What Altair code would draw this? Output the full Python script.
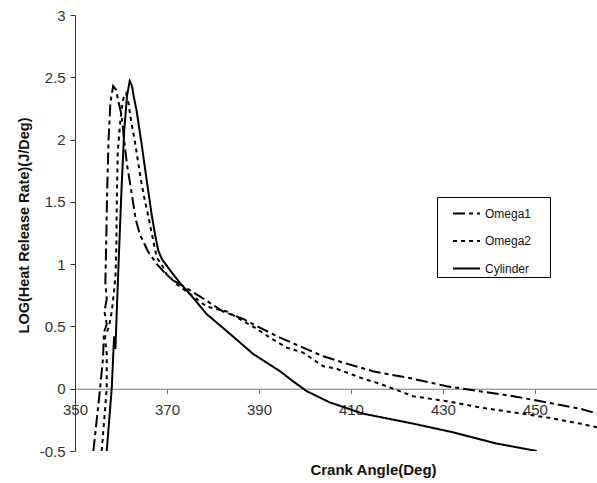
import altair as alt
import pandas as pd

series_names = ["Omega1", "Omega2", "Cylinder"]
x_ticks = [350, 370, 390, 410, 430, 450]
y_ticks = [-0.5, 0, 0.5, 1, 1.5, 2, 2.5, 3]

omega1_x = [354.0, 355.4, 356.1, 356.3, 356.9, 356.4, 356.9, 356.6, 356.8, 357.0,
            357.3, 357.7, 358.3, 358.9, 359.3, 360.1, 360.7, 361.3, 362.1, 363.2,
            364.1, 365.9, 367.8, 369.5, 371.3, 372.8, 377.2, 382.2, 386.6, 390.2,
            394.6, 399.6, 404.0, 408.3, 414.8, 423.5, 430.8, 438.0, 445.3, 452.5,
            459.8, 463.5]
omega1_y = [-0.50, -0.02, 0.25, 0.45, 0.52, 0.62, 0.72, 0.85, 1.20, 1.60,
            2.00, 2.30, 2.43, 2.40, 2.33, 2.20, 1.99, 1.80, 1.62, 1.36,
            1.24, 1.10, 1.00, 0.93, 0.87, 0.84, 0.74, 0.62, 0.56, 0.49,
            0.41, 0.33, 0.26, 0.21, 0.14, 0.08, 0.02, -0.02, -0.06, -0.11,
            -0.16, -0.20]

omega2_x = [355.8, 356.9, 356.9, 356.9, 356.5, 357.4, 358.0, 358.4, 358.8, 359.0,
            359.1, 359.3, 359.9, 360.5, 361.1, 361.6, 362.2, 363.0, 363.8, 364.5,
            365.2, 366.3, 367.0, 367.8, 368.8, 369.9, 372.1, 378.6, 383.0, 389.1,
            392.4, 396.0, 399.6, 404.0, 406.9, 409.8, 412.7, 416.3, 423.5, 430.8,
            438.0, 445.3, 452.5, 459.8, 463.5]
omega2_y = [-0.50, 0.00, 0.09, 0.28, 0.41, 0.50, 0.62, 0.75, 0.90, 1.16,
            1.53, 1.90, 2.17, 2.33, 2.37, 2.30, 2.15, 1.99, 1.80, 1.64,
            1.51, 1.32, 1.19, 1.05, 1.00, 0.92, 0.84, 0.66, 0.62, 0.49,
            0.41, 0.33, 0.29, 0.18, 0.16, 0.12, 0.08, 0.04, -0.06, -0.10,
            -0.15, -0.19, -0.23, -0.28, -0.31]

cylinder_x = [356.9, 358.0, 358.3, 358.5, 358.8, 359.0, 359.5, 360.1, 360.7, 361.3,
              361.9, 362.4, 362.7, 363.4, 364.5, 365.6, 366.7, 367.4, 368.1, 368.9,
              370.7, 372.8, 375.0, 378.6, 383.7, 388.7, 394.6, 397.4, 400.4, 405.4,
              412.6, 423.5, 432.2, 441.7, 450.4]
cylinder_y = [-0.50, 0.01, 0.26, 0.42, 0.32, 0.54, 1.03, 1.59, 2.07, 2.35,
              2.47, 2.43, 2.36, 2.23, 1.96, 1.67, 1.39, 1.24, 1.11, 1.04,
              0.95, 0.85, 0.76, 0.60, 0.44, 0.28, 0.14, 0.06, -0.02, -0.11,
              -0.20, -0.28, -0.35, -0.44, -0.50]

rows = []
for name, xs, ys in [("Omega1", omega1_x, omega1_y),
                     ("Omega2", omega2_x, omega2_y),
                     ("Cylinder", cylinder_x, cylinder_y)]:
    for i, (xv, yv) in enumerate(zip(xs, ys)):
        rows.append({"series": name, "angle": xv, "hrr": yv, "idx": i})
df = pd.DataFrame(rows)

FONT = "Liberation Sans"

chart = alt.Chart(df).mark_line(strokeWidth=2, color="black", clip=True).encode(
    x=alt.X("angle:Q",
            scale=alt.Scale(domain=[350, 463.5], nice=False, zero=False),
            axis=alt.Axis(values=x_ticks, offset=-62.3, grid=False,
                          title="Crank Angle(Deg)", titleX=298, titleY=81,
                          titleAlign="center", titleBaseline="middle",
                          titleFontSize=15, titleFontWeight="bold", titleColor="#111",
                          labelFontSize=15, labelColor="#333", labelPadding=9,
                          tickSize=5, tickColor="#777", domainColor="#777",
                          labelFlush=False, labelOverlap=False)),
    y=alt.Y("hrr:Q",
            scale=alt.Scale(domain=[-0.5, 3], nice=False, zero=False),
            axis=alt.Axis(values=y_ticks, grid=False, labelExpr="datum.value + ''",
                          title="LOG(Heat Release Rate)(J/Deg)", titleX=-51, titleY=210,
                          titleAlign="center", titleBaseline="middle",
                          titleFontSize=14.5, titleFontWeight="bold", titleColor="#111",
                          labelFontSize=15, labelColor="#333", labelPadding=5,
                          tickSize=5, tickColor="#333", domainColor="#333",
                          labelFlush=False, labelOverlap=False)),
    strokeDash=alt.StrokeDash(
        "series:N",
        scale=alt.Scale(domain=series_names, range=[[12, 4, 4, 4], [4, 4], [1, 0]]),
        legend=alt.Legend(title="\u00a0", titleOrient="right", titlePadding=17,
                          titleFontSize=12,
                          orient="none", legendX=362, legendY=182,
                          symbolType="stroke", symbolSize=729, symbolStrokeWidth=2,
                          symbolStrokeColor="black", symbolOffset=13,
                          labelFontSize=12, labelColor="#111",
                          labelOffset=4, rowPadding=6.5, padding=2,
                          strokeColor="black", fillColor="white")),
    order="idx:Q",
).properties(
    width=522, height=436,
    padding={"left": 75, "top": 15, "right": 0, "bottom": 32},
    autosize=alt.AutoSizeParams(type="none"),
).configure(font=FONT).configure_view(stroke="transparent")

chart.save("out.html", embed_options={"renderer": "svg", "actions": False})
